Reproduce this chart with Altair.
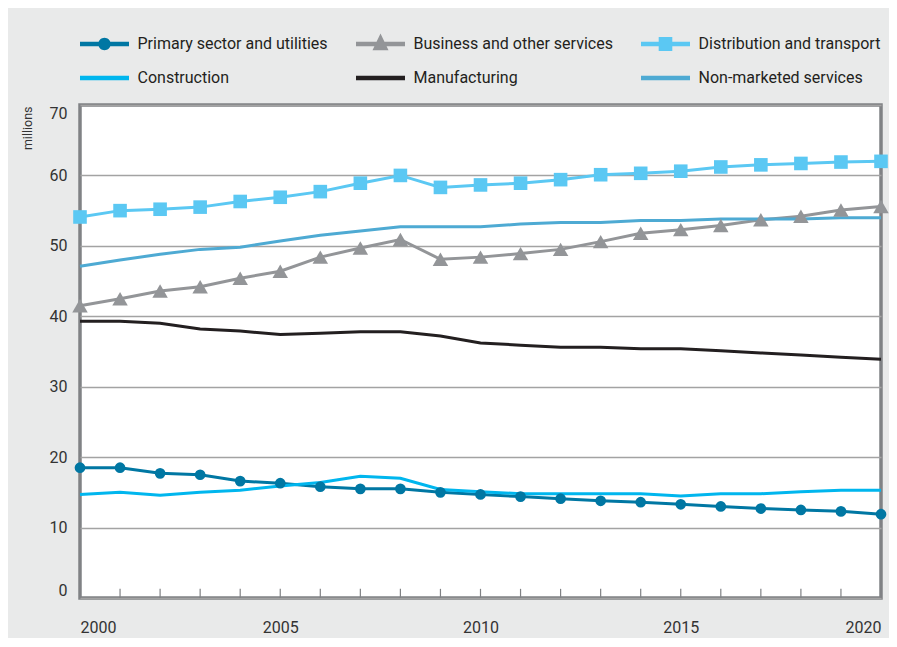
import altair as alt
import pandas as pd

years = list(range(2000, 2021))
series_names = [
    "Primary sector and utilities",
    "Business and other services",
    "Distribution and transport",
    "Construction",
    "Manufacturing",
    "Non-marketed services",
]

primary = [18.5, 18.5, 17.7, 17.5, 16.6, 16.3, 15.8, 15.5, 15.5, 15.0, 14.7,
           14.4, 14.1, 13.8, 13.6, 13.3, 13.0, 12.7, 12.5, 12.3, 11.9]
business = [41.5, 42.5, 43.6, 44.2, 45.4, 46.4, 48.4, 49.7, 50.9, 48.1, 48.4,
            48.9, 49.5, 50.6, 51.8, 52.3, 52.9, 53.7, 54.2, 55.1, 55.6]
distribution = [54.1, 55.0, 55.2, 55.5, 56.3, 56.9, 57.7, 58.9, 60.0, 58.3, 58.65,
                58.9, 59.4, 60.1, 60.3, 60.6, 61.2, 61.5, 61.7, 61.9, 62.0]
construction = [14.7, 15.0, 14.6, 15.0, 15.3, 15.9, 16.4, 17.3, 17.0, 15.4, 15.1,
                14.8, 14.8, 14.8, 14.8, 14.5, 14.8, 14.8, 15.1, 15.3, 15.3]
manufacturing = [39.3, 39.3, 39.0, 38.2, 37.9, 37.4, 37.6, 37.8, 37.8, 37.2, 36.2,
                 35.9, 35.6, 35.6, 35.4, 35.4, 35.1, 34.8, 34.5, 34.2, 33.9]
nonmarketed = [47.1, 48.0, 48.8, 49.5, 49.8, 50.7, 51.5, 52.1, 52.7, 52.7, 52.7,
               53.1, 53.3, 53.3, 53.6, 53.6, 53.8, 53.8, 53.8, 54.0, 54.0]

y_ticks = [0, 10, 20, 30, 40, 50, 60, 70]
x_labels = [2000, 2005, 2010, 2015, 2020]

colors = ["#0077a3", "#939598", "#5bc8f3", "#00b6ee", "#231f20", "#4eaad3"]

# legend symbols: a line segment with the series' marker
LINE = "M-2.45,-0.22H2.45V0.22H-2.45Z"
legend_shapes = [
    LINE + "M0.62,0A0.62,0.62,0,1,1,-0.62,0A0.62,0.62,0,1,1,0.62,0Z",
    LINE + "M0,-1.05L0.8,0.62H-0.8Z",
    LINE + "M-0.68,-0.7H0.68V0.7H-0.68Z",
    LINE,
    LINE,
    LINE,
]

values = [primary, business, distribution, construction, manufacturing, nonmarketed]
rows = []
for name, vals in zip(series_names, values):
    for yr, v in zip(years, vals):
        rows.append({"year": yr, "series": name, "value": v})
df = pd.DataFrame(rows)
ticks_df = pd.DataFrame({"year": years, "value": 0.0, "top": 1.3})

FONT = "Roboto"

x_scale = alt.Scale(domain=[2000, 2020], nice=False, zero=False)
y_scale = alt.Scale(domain=[0, 70], nice=False)
color_scale = alt.Scale(domain=series_names, range=colors)

x_axis = alt.Axis(values=x_labels, format="d", grid=False, ticks=False, domain=False,
                  labelFlush=True, labelPadding=21, labelFontSize=16, labelFont=FONT,
                  labelColor="#333333", title=None)
y_axis = alt.Axis(values=y_ticks, grid=True, gridColor="#a3a3a3", gridWidth=1.5,
                  ticks=False, domain=False, labelFlush=True, labelPadding=13,
                  labelFontSize=16, labelFont=FONT, labelColor="#333333",
                  title="millions", titleFont=FONT, titleFontSize=12.5, titleFontWeight="normal",
                  titleColor="#333333", titleAngle=270, titleAlign="right",
                  titleBaseline="middle", titleX=-53, titleY=1)

legend_def = alt.Legend(
    title=None, orient="none", direction="horizontal", legendX=0, legendY=-71, columns=3,
    columnPadding=28, rowPadding=16, symbolSize=400, symbolOffset=14.5,
    labelOffset=23, labelFont=FONT, labelFontSize=16, labelColor="#231f20",
    symbolStrokeWidth=0, symbolOpacity=1, padding=0, labelLimit=400,
)

X = alt.X("year:Q", scale=x_scale, axis=x_axis)
Y = alt.Y("value:Q", scale=y_scale, axis=y_axis)
C = alt.Color("series:N", scale=color_scale, legend=legend_def)

base = alt.Chart(df)

lines = base.mark_line(strokeWidth=3).encode(x=X, y=Y, color=C)

ticks = alt.Chart(ticks_df).mark_rule(color="#808285", strokeWidth=1.2).encode(
    x=X, y=Y, y2="top:Q",
)

def pts(name, shape, size):
    return base.transform_filter(alt.datum.series == name).mark_point(
        shape=shape, size=size, filled=True, opacity=1, strokeWidth=0
    ).encode(x=X, y=Y, color=C)

p1 = pts(series_names[0], "circle", 115)
p2 = pts(series_names[1], "triangle-up", 240)
p3 = pts(series_names[2], "square", 185)

legend_layer = base.transform_filter("false").mark_point(filled=True, opacity=1).encode(
    x=X, y=Y, color=C,
    shape=alt.Shape("series:N", scale=alt.Scale(domain=series_names, range=legend_shapes),
                    legend=legend_def),
)

chart = alt.layer(ticks, lines, p1, p2, p3, legend_layer).properties(
    width=801, height=493,
    padding={"left": 72, "top": 97, "right": 8, "bottom": 40},
    autosize=alt.AutoSizeParams(type="none"),
).configure(background="#e9eaea").configure_view(
    fill="white", stroke="#808285", strokeWidth=3.5
)

chart.save("out.html", embed_options={"renderer": "svg", "actions": False})
